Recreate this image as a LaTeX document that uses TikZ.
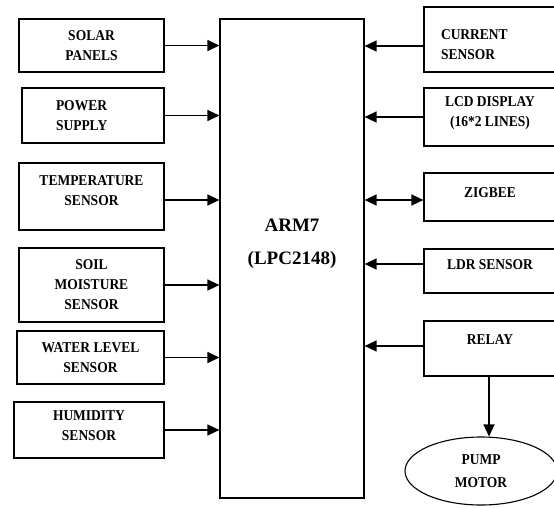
\documentclass[tikz,border=0pt]{standalone}
\usepackage{fontspec}
\setmainfont{Liberation Serif}
\newfontfamily\blkfont[FakeStretch=0.9]{Liberation Serif}
\usepackage{tikz}
\usetikzlibrary{arrows.meta, positioning, shapes.geometric}

\tikzset{
  blk/.style={draw, line width=1.2pt, rectangle, align=center, inner sep=2pt,
    font=\blkfont\bfseries\fontsize{15}{20}\selectfont},
  arr/.style={line width=1.4pt, -{Triangle[length=12pt, width=11pt]}},
  dbl/.style={line width=1.4pt, {Triangle[length=12pt, width=11pt]}-{Triangle[length=12pt, width=11pt]}}
}

\begin{document}
\begin{tikzpicture}[x=1pt, y=-1pt]
    \useasboundingbox (0,0) rectangle (554,507);
    % controller in the middle
    \node[draw, line width=1.2pt, minimum width=144, minimum height=479, align=center,
      text depth=33pt, font=\bfseries\fontsize{19}{33}\selectfont] (arm) at (292,258.5) {ARM7\\(LPC2148)};
    % inputs on the left
    \node[blk, minimum width=145, minimum height=53] (solar) at (91.5,45.5) {SOLAR\\PANELS};
    \node[blk, minimum width=142, minimum height=55, inner xsep=34pt, text width=74pt, align=left] (power) at (93,115.5) {POWER\\SUPPLY};
    \node[blk, minimum width=145, minimum height=67, text depth=11pt] (temp) at (91.5,196.5) {TEMPERATURE\\SENSOR};
    \node[blk, minimum width=145, minimum height=74] (soil) at (91.5,285) {SOIL\\MOISTURE\\SENSOR};
    \node[blk, minimum width=147, minimum height=53] (water) at (90.5,357.5) {WATER LEVEL\\SENSOR};
    \node[blk, minimum width=150, minimum height=56, text depth=9pt] (humid) at (89,430) {HUMIDITY\\SENSOR};
    % blocks on the right, cut by the page edge
    \node[blk, minimum width=132, minimum height=65, inner xsep=17pt, text width=98pt, align=left, text depth=10pt] (current) at (490,39.5) {CURRENT\\SENSOR};
    \node[blk, minimum width=132, minimum height=58, text depth=10pt] (lcd) at (490,117) {LCD DISPLAY\\(16*2 LINES)};
    \node[blk, minimum width=132, minimum height=48, text depth=8pt] (zigbee) at (490,197) {ZIGBEE};
    \node[blk, minimum width=132, minimum height=44, text depth=12pt] (ldr) at (490,271) {LDR SENSOR};
    \node[blk, minimum width=132, minimum height=55, text depth=17pt] (relay) at (490,348.5) {RELAY};
    \node[draw, ellipse, line width=1.1pt, minimum width=152, minimum height=68, align=center,
      font=\blkfont\bfseries\fontsize{15}{23}\selectfont] (pump) at (481,471) {PUMP\\MOTOR};
    % connectors
    \foreach \nm in {solar, power, soil, water, humid}
      \draw[arr] (\nm.east) -- (\nm.east -| arm.west);
    \draw[arr] ([yshift=-3.5pt]temp.east) -- ([yshift=-3.5pt]temp.east -| arm.west);
    \draw[arr] ([yshift=-6.5pt]current.west) -- ([yshift=-6.5pt]current.west -| arm.east);
    \draw[arr] (lcd.west) -- (lcd.west -| arm.east);
    \draw[dbl] ([yshift=-3pt]zigbee.west -| arm.east) -- ([yshift=-3pt]zigbee.west);
    \draw[arr] ([yshift=7pt]ldr.west) -- ([yshift=7pt]ldr.west -| arm.east);
    \draw[arr] ([yshift=2.5pt]relay.west) -- ([yshift=2.5pt]relay.west -| arm.east);
    \draw[arr] ([xshift=-1pt]relay.south) -- ([xshift=-1pt]relay.south |- pump.north);
\end{tikzpicture}
\end{document}
